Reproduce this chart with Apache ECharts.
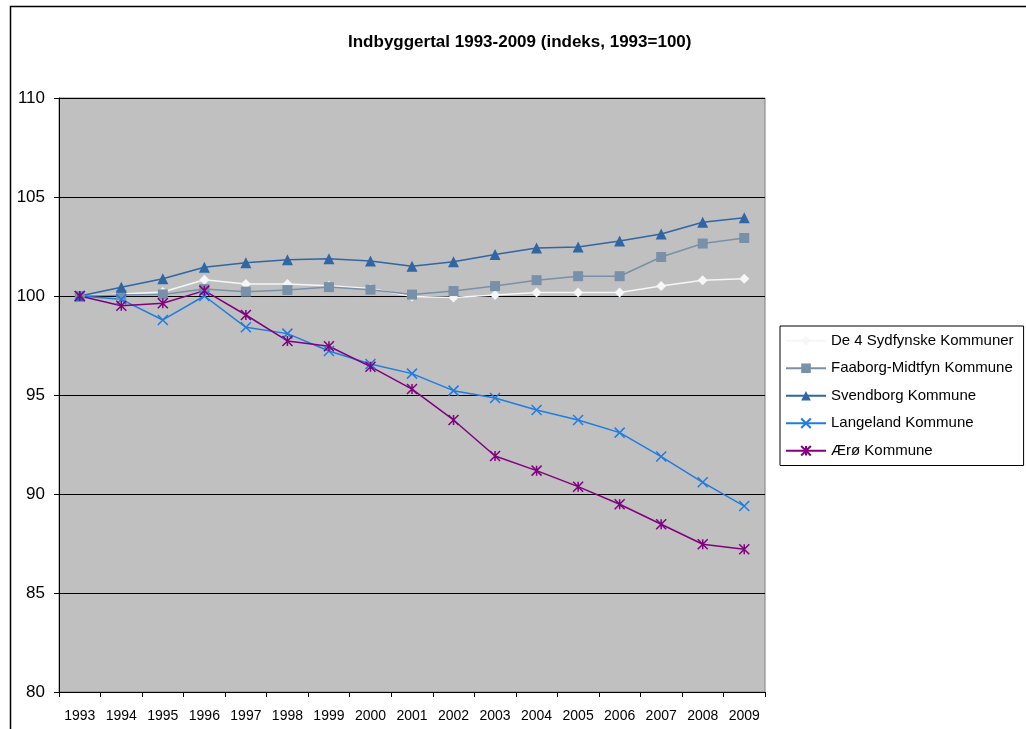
<!DOCTYPE html>
<html>
<head>
<meta charset="utf-8">
<script src="https://cdn.jsdelivr.net/npm/echarts@6/dist/echarts.min.js"></script>
<style>
  html, body { margin: 0; padding: 0; background: #fff; }
  #chart { width: 1026px; height: 729px; }
</style>
</head>
<body>
<div id="chart"></div>
<script>
// kategorier (år)
const years = ['1993', '1994', '1995', '1996', '1997', '1998', '1999', '2000', '2001',
  '2002', '2003', '2004', '2005', '2006', '2007', '2008', '2009']

// indeks, 1993 = 100
const sydfyn = [100, 100.1, 100.2, 100.82, 100.6, 100.6, 100.52, 100.38, 99.97,
  99.92, 100.05, 100.18, 100.18, 100.18, 100.5, 100.8, 100.87]
const faaborg = [100, 100.05, 100.08, 100.35, 100.22, 100.3, 100.45, 100.32, 100.07,
  100.25, 100.5, 100.8, 101.0, 101.0, 101.97, 102.65, 102.93]
const svendborg = [100, 100.44, 100.87, 101.45, 101.68, 101.83, 101.88, 101.77, 101.5,
  101.73, 102.1, 102.42, 102.47, 102.78, 103.13, 103.72, 103.95]
const langeland = [100, 99.83, 98.79, 100.0, 98.42, 98.1, 97.22, 96.57, 96.08,
  95.22, 94.85, 94.24, 93.74, 93.1, 91.89, 90.59, 89.39]
const aeroe = [100, 99.51, 99.63, 100.27, 99.04, 97.73, 97.46, 96.43, 95.3,
  93.74, 91.92, 91.18, 90.37, 89.48, 88.47, 87.46, 87.21]

const chart = echarts.init(document.getElementById('chart'))

const font = 'Liberation Sans, Arial, sans-serif'

// fælles opsætning for linjerne
function makeSeries(name, data, color, symbol, symbolSize, extra) {
  return Object.assign({
    name: name,
    type: 'line',
    data: data,
    symbol: symbol,
    symbolSize: symbolSize,
    showAllSymbol: true,
    animation: false,
    lineStyle: { color: color, width: 1.5 },
    itemStyle: { color: color },
  }, extra || {})
}

const option = {
  animation: false,
  title: {
    text: 'Indbyggertal 1993-2009 (indeks, 1993=100)',
    left: 343,
    top: 29,
    textStyle: { fontFamily: font, fontSize: 17, fontWeight: 'bold', color: '#000' },
  },
  graphic: [
    {
      type: 'rect',
      shape: { x: 10.5, y: 6.5, width: 1100, height: 800 },
      style: { fill: 'none', stroke: '#000', lineWidth: 1.5 },
      silent: true,
    },
  ],
  legend: {
    orient: 'vertical',
    left: 780,
    top: 326,
    width: 244,
    padding: [7, 10, 7, 5],
    itemWidth: 40,
    itemHeight: 12,
    itemGap: 12,
    borderColor: '#000',
    borderWidth: 1,
    backgroundColor: '#fff',
    textStyle: { fontFamily: font, fontSize: 15, lineHeight: 15.5, color: '#000' },
    data: ['De 4 Sydfynske Kommuner', 'Faaborg-Midtfyn Kommune', 'Svendborg Kommune',
      'Langeland Kommune', 'Ærø Kommune'],
  },
  grid: {
    left: 59,
    right: 261,
    top: 98,
    bottom: 37,
    show: true,
    backgroundColor: '#c0c0c0',
    borderColor: '#808080',
    borderWidth: 1,
  },
  xAxis: {
    type: 'category',
    data: years,
    boundaryGap: true,
    axisLine: { lineStyle: { color: '#000', width: 1 } },
    axisTick: { show: true, length: 5, inside: false, lineStyle: { color: '#000' } },
    axisLabel: { fontFamily: font, fontSize: 14, color: '#000', margin: 17, interval: 0 },
  },
  yAxis: {
    type: 'value',
    min: 80,
    max: 110,
    interval: 5,
    axisLine: { show: true, lineStyle: { color: '#000', width: 1 } },
    axisTick: { show: true, length: 5, lineStyle: { color: '#000' } },
    axisLabel: { fontFamily: font, fontSize: 17, color: '#000', margin: 14 },
    splitLine: { show: true, lineStyle: { color: '#000', width: 1 } },
  },
  series: [
    makeSeries('De 4 Sydfynske Kommuner', sydfyn, '#f4f6f8', 'diamond', 10),
    makeSeries('Faaborg-Midtfyn Kommune', faaborg, '#7890a8', 'rect', 10),
    makeSeries('Svendborg Kommune', svendborg, '#2f66a3', 'triangle', 11),
    makeSeries('Langeland Kommune', langeland, '#1f7ce0', 'path://M0,0L10,10M10,0L0,10', 10, {
      itemStyle: { color: '#1f7ce0', borderColor: '#1f7ce0', borderWidth: 1.5 },
    }),
    makeSeries('Ærø Kommune', aeroe, '#800080', 'path://M0,0L10,10M10,0L0,10M5,0L5,10', 10, {
      itemStyle: { color: '#800080', borderColor: '#800080', borderWidth: 1.5 },
    }),
  ],
}

chart.setOption(option)
</script>
</body>
</html>
